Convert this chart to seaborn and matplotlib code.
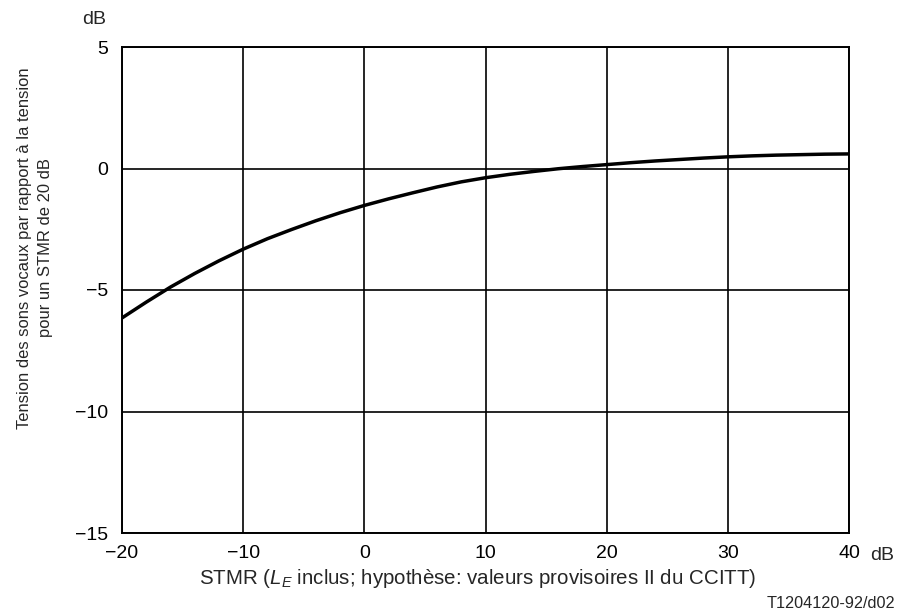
import matplotlib
matplotlib.use("Agg")
import matplotlib.pyplot as plt
import seaborn as sns
import pandas as pd

stmr = [-20, -18, -16, -14, -12, -10, -8, -6, -4, -2, 0, 2, 4, 6, 8, 10,
        12, 14, 16, 18, 20, 22, 24, 26, 28, 30, 32, 34, 36, 38, 40]
tension = [-6.15, -5.5, -4.88, -4.32, -3.80, -3.32, -2.89, -2.51, -2.15,
           -1.82, -1.52, -1.25, -1.0, -0.76, -0.55, -0.38, -0.24, -0.12,
           -0.01, 0.08, 0.16, 0.24, 0.31, 0.37, 0.43, 0.48, 0.52, 0.55,
           0.57, 0.59, 0.6]
xticks = [-20, -10, 0, 10, 20, 30, 40]
yticks = [5, 0, -5, -10, -15]
xtick_labels = ["\u221220", "\u221210", "0", "10", "20", "30", "40"]
ytick_labels = ["5", "0", "\u22125", "\u221210", "\u221215"]

sns.set_style("white")
plt.rcParams["font.family"] = ["Liberation Sans", "DejaVu Sans"]
plt.rcParams["mathtext.fontset"] = "custom"
plt.rcParams["mathtext.rm"] = "Liberation Sans"
plt.rcParams["mathtext.it"] = "Liberation Sans:italic"

df = pd.DataFrame({"stmr": stmr, "tension": tension})

fig = plt.figure(figsize=(9.02, 6.15), dpi=100)
ax = fig.add_axes([122 / 902, 1 - 533 / 615, (849 - 122) / 902, (533 - 47) / 615])

sns.lineplot(data=df, x="stmr", y="tension", ax=ax, color="black", linewidth=2.5)

ax.set_xlim(-20, 40)
ax.set_ylim(-15, 5)
ax.set_xticks(xticks)
ax.set_xticklabels(xtick_labels)
ax.set_yticks(yticks)
ax.set_yticklabels(ytick_labels)
ax.tick_params(axis="both", length=0, labelsize=14, colors="black")
ax.tick_params(axis="x", pad=9)
ax.tick_params(axis="y", pad=10)
ax.grid(True, color="black", linewidth=1.2)
for s in ax.spines.values():
    s.set_color("black")
    s.set_linewidth(1.4)
ax.set_xlabel("")
ax.set_ylabel("")

fig.text(94 / 902, 1 - 20 / 615, "dB", fontsize=14, ha="center", va="center")
fig.text(882 / 902, 1 - 555 / 615, "dB", fontsize=14, ha="center", va="center")
fig.text(478 / 902, 1 - 578 / 615,
         r"STMR ($L_E$ inclus; hypothèse: valeurs provisoires II du CCITT)",
         fontsize=14.8, ha="center", va="center")
fig.text(35 / 902, 1 - 248 / 615,
         "Tension des sons vocaux par rapport à la tension\npour un STMR de 20 dB",
         fontsize=11.9, ha="center", va="center", rotation=90, multialignment="center",
         linespacing=1.45)
fig.text(895 / 902, 1 - 603 / 615, "T1204120-92/d02", fontsize=11.7,
         ha="right", va="center")

fig.savefig("out.png", dpi=100)
